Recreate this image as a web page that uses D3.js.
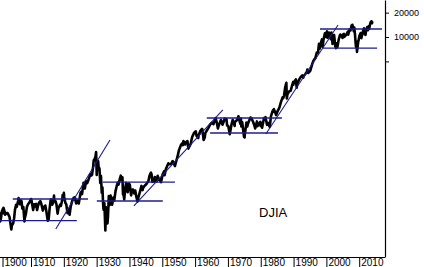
<!DOCTYPE html>
<html><head><meta charset="utf-8">
<script src="https://cdn.jsdelivr.net/npm/d3@7"></script>
<style>html,body{margin:0;padding:0;background:#fff;}svg{display:block;font-family:"Liberation Sans",Arial,sans-serif;}</style>
</head><body><svg id="c" width="424" height="267"></svg>
<script>
// DJIA (year fraction, index value)
const years = [1899.0,1899.3,1899.6,1899.95,1900.2,1900.45,1900.7,1900.95,1901.3,1901.4,1901.45,1901.8,1901.95,1902.3,1902.7,1902.95,1903.3,1903.6,1903.85,1904.0,1904.4,1904.7,1904.95,1905.3,1905.5,1905.95,1906.05,1906.5,1906.8,1906.95,1907.2,1907.5,1907.85,1907.95,1908.3,1908.6,1908.95,1909.3,1909.85,1910.0,1910.5,1910.8,1910.95,1911.4,1911.7,1911.95,1912.3,1912.7,1912.95,1913.45,1913.7,1913.95,1914.2,1914.5,1914.95,1915.2,1915.5,1915.8,1915.95,1916.3,1916.6,1916.85,1916.95,1917.3,1917.6,1917.95,1918.2,1918.7,1918.95,1919.3,1919.5,1919.6,1919.85,1919.95,1920.3,1920.6,1920.95,1921.2,1921.6,1921.95,1922.4,1922.8,1922.95,1923.2,1923.6,1923.95,1924.4,1924.7,1924.95,1925.2,1925.4,1925.85,1925.95,1926.25,1926.6,1926.95,1927.3,1927.6,1927.95,1928.2,1928.45,1928.8,1928.95,1929.2,1929.5,1929.68,1929.87,1929.95,1930.3,1930.5,1930.7,1930.95,1931.15,1931.4,1931.6,1931.8,1931.95,1932.2,1932.5,1932.7,1932.95,1933.15,1933.3,1933.55,1933.8,1933.95,1934.1,1934.55,1934.95,1935.2,1935.6,1935.95,1936.3,1936.5,1936.95,1937.2,1937.5,1937.7,1937.88,1937.95,1938.25,1938.6,1938.85,1938.95,1939.3,1939.7,1939.95,1940.35,1940.7,1940.95,1941.3,1941.6,1941.95,1942.3,1942.6,1942.95,1943.5,1943.85,1943.95,1944.4,1944.95,1945.3,1945.6,1945.95,1946.4,1946.6,1946.8,1946.95,1947.35,1947.55,1947.95,1948.1,1948.45,1948.85,1948.95,1949.45,1949.95,1950.4,1950.55,1950.95,1951.7,1951.95,1952.5,1952.95,1953.05,1953.7,1953.95,1954.5,1954.95,1955.6,1955.95,1956.1,1956.3,1956.8,1956.95,1957.5,1957.8,1957.95,1958.5,1958.95,1959.5,1959.9,1960.05,1960.3,1960.8,1960.95,1961.5,1961.95,1962.05,1962.45,1962.8,1962.95,1963.5,1963.95,1964.5,1964.95,1965.45,1965.95,1966.1,1966.5,1966.8,1966.95,1967.7,1967.95,1968.2,1968.9,1968.95,1969.4,1969.6,1969.95,1970.4,1970.95,1971.3,1971.9,1971.95,1972.5,1972.95,1973.05,1973.6,1973.8,1973.93,1973.97,1974.2,1974.75,1974.85,1974.93,1974.97,1975.5,1975.75,1975.95,1976.7,1976.95,1977.5,1977.95,1978.15,1978.7,1978.85,1978.95,1979.75,1979.85,1979.95,1980.25,1980.85,1980.95,1981.3,1981.75,1981.95,1982.6,1982.95,1983.5,1983.85,1983.95,1984.55,1984.95,1985.5,1985.95,1986.5,1986.7,1986.95,1987.3,1987.65,1987.8,1987.95,1988.5,1988.95,1989.5,1989.75,1989.8,1989.95,1990.55,1990.8,1990.95,1991.5,1991.95,1992.5,1992.8,1992.95,1993.5,1993.95,1994.05,1994.3,1994.95,1995.5,1995.95,1996.5,1996.95,1997.3,1997.6,1997.8,1997.95,1998.5,1998.7,1998.95,1999.4,1999.8,1999.95,2000.05,2000.2,2000.7,2000.95,2001.2,2001.4,2001.72,2001.95,2002.2,2002.55,2002.8,2002.95,2003.2,2003.6,2003.95,2004.1,2004.8,2004.95,2005.2,2005.3,2005.95,2006.4,2006.5,2006.95,2007.2,2007.55,2007.65,2007.78,2007.95,2008.2,2008.35,2008.55,2008.75,2008.88,2008.95,2009.18,2009.5,2009.95,2010.3,2010.5,2010.95,2011.3,2011.6,2011.77,2011.95,2012.3,2012.45,2012.78,2012.88,2012.95,2013.2,2013.4,2013.5,2013.6,2013.75,2013.85];
const djia = [60,77,72,58,67,53,58,70,76,67,78,70,64,67,67,64,60,49,42,47,50,58,73,85,80,96,103,86,96,94,76,80,53,58,66,80,86,90,100,96,73,86,81,87,73,82,90,94,88,72,80,78,83,71,54,55,75,95,99,85,90,110,95,94,86,66,77,85,82,95,112,100,119,107,90,86,67,75,64,81,95,103,99,105,88,95,88,104,120,123,115,159,156,135,166,157,170,185,202,195,200,255,300,310,335,381,198,248,294,230,240,158,194,120,140,90,74,89,41,79,60,50,60,109,84,100,110,85,104,96,125,144,160,150,180,194,170,185,114,121,99,140,158,155,121,155,150,111,130,131,117,127,106,93,106,119,145,129,136,145,152,160,165,193,212,200,163,177,163,187,181,165,193,173,177,161,200,220,197,235,276,269,270,292,293,255,280,335,404,470,488,462,521,470,499,520,419,435,480,583,650,679,685,600,566,615,700,734,726,535,580,652,710,762,840,874,840,969,995,860,744,785,943,905,825,985,943,968,810,800,631,838,950,798,890,930,1020,1051,851,987,788,850,891,584,670,577,616,881,784,852,1014,1004,900,800,742,907,792,805,897,796,838,759,1000,963,1024,824,875,776,1046,1230,1287,1258,1086,1211,1330,1546,1800,1760,1895,2400,2722,1738,1938,2130,2168,2600,2791,2570,2753,2999,2365,2633,2950,3168,3350,3150,3301,3520,3754,3978,3593,3834,4600,5117,5500,6448,6400,8259,7161,7908,9337,7539,9181,11107,10019,11497,11723,9796,11310,10787,9400,11337,8236,10021,10635,7702,7286,8342,7524,9300,10454,10738,9750,10783,10940,10012,10718,11642,10706,12463,12050,13950,12850,14165,13265,11740,13058,10963,8451,7552,8776,6547,8500,10428,11205,9686,11578,12810,10720,10655,12218,13280,12100,13610,12543,13104,14578,15409,14760,15600,14776,15600];

// Horizontal support/resistance levels: [startYear, endYear, value]
const levelStart = [1904.3,1900.3,1931.7,1929.9,1963.4,1964.4,1997.9,1998.8];
const levelEnd   = [1927.2,1923.8,1953.7,1950.0,1986.3,1985.1,2016.8,2015.3];
const levelValue = [100,54,162,94.5,1000,653,12560,7310];

// Trend lines: [startYear, startValue] -> [endYear, endValue]
const trendStartYear  = [1917.4,1941.2,1981.4];
const trendStartValue = [42.6,82,634];
const trendEndYear    = [1933.9,1968.3,2003.4];
const trendEndValue   = [535,1256,14060];

const xTicks = [1900,1910,1920,1930,1940,1950,1960,1970,1980,1990,2000,2010];
const yTicks = [20000,10000,5000];
const yLabels = [20000,10000];
const title = "DJIA";

const svg = d3.select("#c");
const W = 385, H = 257;
const x = d3.scaleLinear().domain([1900, 2010]).range([-1.3, 359.7]);
const y = d3.scaleLog().domain([Math.pow(10,1.284), Math.pow(10,4.457)]).range([H, 0]);

svg.append("defs").append("clipPath").attr("id","clip")
  .append("rect").attr("x",0).attr("y",0).attr("width",W).attr("height",H);

const g = svg.append("g").attr("clip-path","url(#clip)");
const pts = years.map((yr,i)=>[yr, djia[i]]);
g.append("path").datum(pts)
  .attr("fill","none").attr("stroke","#000").attr("stroke-width",2.6)
  .attr("stroke-linejoin","round")
  .attr("d", d3.line().x(d=>x(d[0])).y(d=>y(d[1])));

const blue = "#1c1c8e";
levelValue.forEach((v,i)=>{
  g.append("line").attr("x1",x(levelStart[i])).attr("x2",x(levelEnd[i]))
   .attr("y1",y(v)).attr("y2",y(v)).attr("stroke",blue).attr("stroke-width",1.3);
});
trendStartYear.forEach((s,i)=>{
  g.append("line").attr("x1",x(s)).attr("y1",y(trendStartValue[i]))
   .attr("x2",x(trendEndYear[i])).attr("y2",y(trendEndValue[i]))
   .attr("stroke",blue).attr("stroke-width",1.1);
});

// right axis
const ya = svg.append("g").attr("transform",`translate(${W},0)`)
  .call(d3.axisRight(y).tickValues(yTicks).tickSize(4).tickSizeOuter(0).tickPadding(5)
    .tickFormat(d=>yLabels.includes(d)?String(d):""));
ya.selectAll("text").attr("font-size",9).attr("font-family",'"Liberation Sans",Arial,sans-serif').attr("fill","#000");
ya.select(".domain").attr("stroke","#000").attr("stroke-width",1.2);

// bottom axis
const xa = svg.append("g").attr("transform",`translate(0,${H})`)
  .call(d3.axisBottom(x).tickValues(xTicks).tickSize(10).tickSizeOuter(0).tickFormat(d3.format("d")));
xa.select(".domain").attr("stroke","#000").attr("stroke-width",1.2).attr("d",`M0,0.5H${W}`);
xa.selectAll(".tick").attr("transform", d=>`translate(${Math.max(x(d),3)},0)`);
xa.selectAll("text").attr("text-anchor","start").attr("x",1.5).attr("y",8.5).attr("dy",0)
  .attr("font-size",10).attr("font-family",'"Liberation Sans",Arial,sans-serif').attr("fill","#000");

svg.append("text").attr("x",259).attr("y",216.7).attr("font-size",13)
  .attr("font-family",'"Liberation Sans",Arial,sans-serif').text(title);
</script></body></html>
